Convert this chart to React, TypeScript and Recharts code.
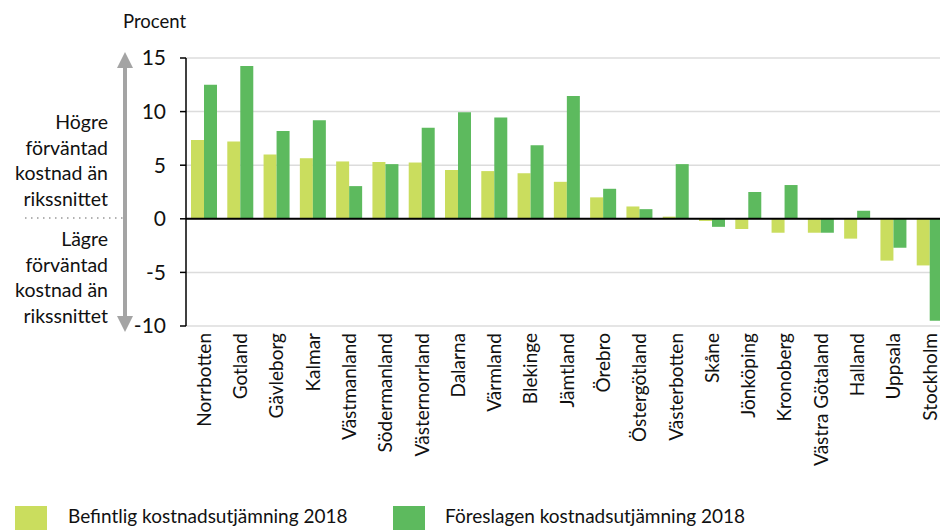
import React from "react";
import { BarChart, Bar, XAxis, YAxis, CartesianGrid, ReferenceLine } from "recharts";

const regions = [
  "Norrbotten", "Gotland", "Gävleborg", "Kalmar", "Västmanland", "Södermanland",
  "Västernorrland", "Dalarna", "Värmland", "Blekinge", "Jämtland", "Örebro",
  "Östergötland", "Västerbotten", "Skåne", "Jönköping", "Kronoberg",
  "Västra Götaland", "Halland", "Uppsala", "Stockholm",
];

const befintlig = [
  7.35, 7.2, 6.0, 5.65, 5.35, 5.3, 5.25, 4.55, 4.45, 4.25, 3.45, 2.0,
  1.15, 0.2, -0.2, -0.95, -1.3, -1.3, -1.85, -3.9, -4.35,
];

const foreslagen = [
  12.5, 14.25, 8.2, 9.2, 3.05, 5.1, 8.5, 9.95, 9.45, 6.85, 11.45, 2.8,
  0.9, 5.1, -0.75, 2.5, 3.15, -1.3, 0.75, -2.7, -9.5,
];

const yTicks = [-10, -5, 0, 5, 10, 15];
const seriesNames = ["Befintlig kostnadsutjämning 2018", "Föreslagen kostnadsutjämning 2018"];
const colors = ["#cadd5e", "#5dba5e"];

const data = regions.map((name, i) => ({
  name,
  befintlig: befintlig[i],
  foreslagen: foreslagen[i],
}));

const font = "Lato, 'Open Sans', sans-serif";

const RotatedTick = (props: any) => {
  const { x, y, payload } = props;
  return (
    <text
      transform={`translate(${x},${y}) rotate(-90)`}
      textAnchor="end"
      dy="0.35em"
      fontSize={19}
      fontFamily={font}
      fill="#111"
    >
      {payload.value}
    </text>
  );
};

const upper = ["Högre", "förväntad", "kostnad än", "rikssnittet"];
const lower = ["Lägre", "förväntad", "kostnad än", "rikssnittet"];

export default function App() {
  return (
    <div
      style={{
        position: "absolute",
        left: 0,
        top: 0,
        width: 940,
        height: 530,
        overflow: "hidden",
        background: "#fff",
        fontFamily: font,
      }}
    >
      <BarChart
        width={948}
        height={530}
        data={data}
        margin={{ top: 58, right: 0, left: 0, bottom: 54 }}
        barGap={0}
        barSize={13}
      >
        <CartesianGrid vertical={false} stroke="#dcdcdc" strokeWidth={1.5} />
        <XAxis
          dataKey="name"
          interval={0}
          axisLine={false}
          tickLine={false}
          tickSize={0}
          tickMargin={7}
          height={150}
          tick={<RotatedTick />}
        />
        <YAxis
          width={186}
          domain={[-10, 15]}
          ticks={yTicks}
          allowDataOverflow
          axisLine={{ stroke: "#000", strokeWidth: 1.5 }}
          tickLine={{ stroke: "#000", strokeWidth: 1.5 }}
          tickSize={6}
          tickMargin={14}
          tick={{ fontSize: 21, fontFamily: font, fill: "#111" }}
        />
        <Bar dataKey="befintlig" name={seriesNames[0]} fill={colors[0]} isAnimationActive={false} />
        <Bar dataKey="foreslagen" name={seriesNames[1]} fill={colors[1]} isAnimationActive={false} />
        <ReferenceLine y={0} stroke="#000" strokeWidth={2} />
      </BarChart>

      <svg
        width={940}
        height={530}
        style={{ position: "absolute", left: 0, top: 0, pointerEvents: "none" }}
      >
        <text x={123} y={28} fontSize={18.5} fontFamily={font} fill="#111">
          Procent
        </text>
        <line x1={125} y1={64} x2={125} y2={320} stroke="#a4a4a4" strokeWidth={4} />
        <polygon points="125,52 117,68 133,68" fill="#a4a4a4" />
        <polygon points="125,332 117,316 133,316" fill="#a4a4a4" />
        <line
          x1={25}
          y1={218}
          x2={127}
          y2={218}
          stroke="#999"
          strokeWidth={1.5}
          strokeDasharray="1.5 4.5"
        />
        {upper.map((t, i) => (
          <text key={"u" + i} x={108} y={129 + i * 25.5} textAnchor="end" fontSize={19.5} fontFamily={font} fill="#111">
            {t}
          </text>
        ))}
        {lower.map((t, i) => (
          <text key={"l" + i} x={108} y={246 + i * 25.5} textAnchor="end" fontSize={19.5} fontFamily={font} fill="#111">
            {t}
          </text>
        ))}
      </svg>

      {seriesNames.map((name, i) => (
        <div key={name}>
          <div
            style={{
              position: "absolute",
              left: i === 0 ? 15 : 393,
              top: 506,
              width: 32,
              height: 30,
              background: colors[i],
            }}
          />
          <div
            style={{
              position: "absolute",
              left: i === 0 ? 68 : 445,
              top: 505,
              fontSize: 19,
              lineHeight: "22px",
              color: "#111",
              whiteSpace: "nowrap",
            }}
          >
            {name}
          </div>
        </div>
      ))}
    </div>
  );
}
